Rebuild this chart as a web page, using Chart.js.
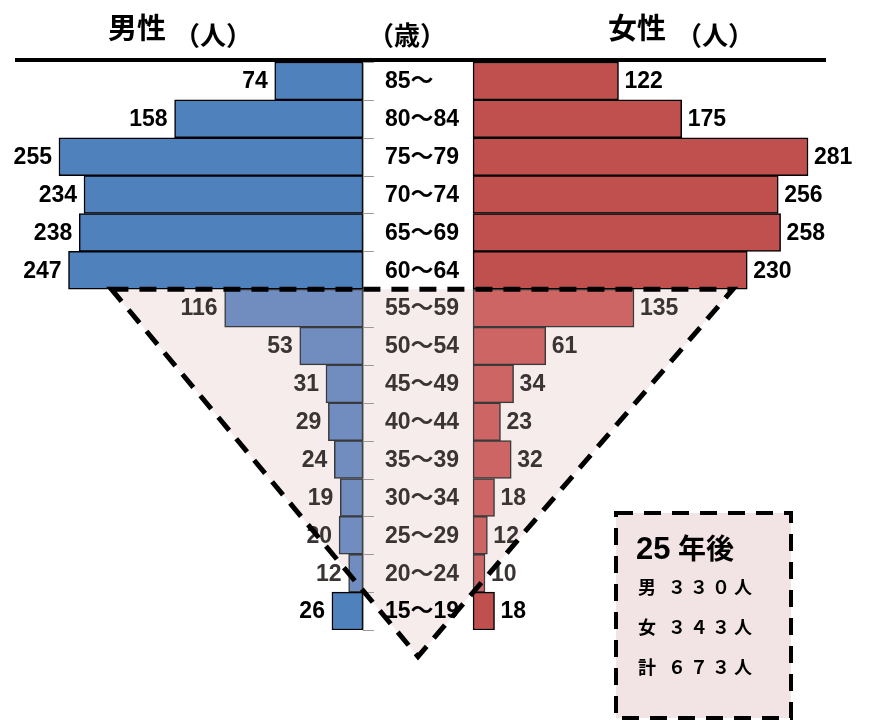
<!DOCTYPE html>
<html>
<head>
<meta charset="utf-8">
<script src="https://cdn.jsdelivr.net/npm/chart.js@4"></script>
<style>
	body { margin: 0; background: #fff; }
	canvas { display: block; }
</style>
</head>
<body>
<canvas id="pyramid" width="871" height="720"></canvas>
<script>
const ages = ['85～', '80～84', '75～79', '70～74', '65～69', '60～64', '55～59', '50～54',
	'45～49', '40～44', '35～39', '30～34', '25～29', '20～24', '15～19'];
const male = [74, 158, 255, 234, 238, 247, 116, 53, 31, 29, 24, 19, 20, 12, 26];
const female = [122, 175, 281, 256, 258, 230, 135, 61, 34, 23, 32, 18, 12, 10, 18];
const summaryTitle = ['25', '年後'];
const summaryRows = [['男', '３３０人'], ['女', '３４３人'], ['計', '６７３人']];

const GAP = 46.2;          // half of the centre column, in data units
const PX = 1.192;          // px per person
const CENTER = 418;
const FONT = '"Liberation Sans", "Noto Sans CJK JP", sans-serif';
const JFONT = '"Noto Sans CJK JP", sans-serif';

// rows drawn in the lighter "future" colour
const isFuture = (i) => i >= 6 && i <= 13;

const deco = {
	id: 'deco',
	triangle(chart) {
		const x = chart.scales.x, y = chart.scales.y;
		const row = y.getPixelForValue(1) - y.getPixelForValue(0);
		const top = y.getPixelForValue(5) + row / 2;
		return [
			[x.getPixelForValue(-GAP - 211), top],
			[x.getPixelForValue(GAP + 218), top],
			[x.getPixelForValue(0), y.getPixelForValue(14) + row * 1.2]
		];
	},
	beforeDatasetsDraw(chart) {
		const ctx = chart.ctx;
		const p = this.triangle(chart);
		ctx.save();
		ctx.fillStyle = '#f6ecec';
		ctx.beginPath();
		ctx.moveTo(...p[0]); ctx.lineTo(...p[1]); ctx.lineTo(...p[2]);
		ctx.closePath();
		ctx.fill();
		ctx.restore();
	},
	afterDatasetsDraw(chart) {
		const ctx = chart.ctx;
		const x = chart.scales.x, y = chart.scales.y;
		const area = chart.chartArea;
		const mZero = x.getPixelForValue(-GAP);
		const row = y.getPixelForValue(1) - y.getPixelForValue(0);
		ctx.save();

		// axis line + small ticks
		ctx.strokeStyle = '#9a9a9a';
		ctx.lineWidth = 1;
		ctx.beginPath();
		ctx.moveTo(mZero + 0.5, area.top);
		ctx.lineTo(mZero + 0.5, area.bottom);
		for (let i = 0; i <= ages.length; i++) {
			const ty = Math.round(y.getPixelForValue(i) - row / 2) + 0.5;
			ctx.moveTo(mZero, ty);
			ctx.lineTo(mZero + 11, ty);
		}
		ctx.stroke();

		// labels
		ctx.font = 'bold 23px ' + FONT;
		ctx.textBaseline = 'middle';
		ages.forEach((age, i) => {
			const cy = y.getPixelForValue(i) + 1;
			ctx.fillStyle = isFuture(i) ? '#3a3434' : '#000';
			ctx.textAlign = 'left';
			ctx.fillText(age, mZero + 22, cy);
			ctx.textAlign = 'right';
			ctx.fillText(String(male[i]), x.getPixelForValue(-GAP - male[i]) - 7, cy);
			ctx.textAlign = 'left';
			ctx.fillText(String(female[i]), x.getPixelForValue(GAP + female[i]) + 6, cy);
		});

		// dashed outline of the triangle
		const p = this.triangle(chart);
		ctx.strokeStyle = '#000';
		ctx.lineWidth = 5;
		ctx.setLineDash([17, 11]);
		ctx.beginPath();
		ctx.moveTo(...p[0]); ctx.lineTo(...p[1]); ctx.lineTo(...p[2]);
		ctx.closePath();
		ctx.stroke();
		ctx.setLineDash([]);

		// header
		ctx.fillStyle = '#000';
		ctx.textAlign = 'left';
		ctx.textBaseline = 'alphabetic';
		ctx.font = 'bold 29px ' + JFONT;
		ctx.fillText('男性', 108, 39);
		ctx.fillText('女性', 608, 39);
		ctx.font = 'bold 26px ' + JFONT;
		ctx.fillText('（人）', 174, 45);
		ctx.fillText('（歳）', 368, 45);
		ctx.fillText('（人）', 676, 45);
		ctx.lineWidth = 4;
		ctx.beginPath();
		ctx.moveTo(15, 60);
		ctx.lineTo(826, 60);
		ctx.stroke();

		// summary box
		ctx.fillStyle = '#f2e4e4';
		ctx.fillRect(616, 513, 175, 205);
		ctx.strokeStyle = '#000';
		ctx.lineWidth = 4;
		ctx.setLineDash([17, 11]);
		ctx.strokeRect(616, 513, 175, 205);
		ctx.setLineDash([]);
		ctx.fillStyle = '#000';
		ctx.font = 'bold 31px "Liberation Sans Narrow", ' + FONT;
		ctx.fillText(summaryTitle[0], 636, 559);
		ctx.font = 'bold 28px ' + JFONT;
		ctx.fillText(summaryTitle[1], 678, 559);
		ctx.font = 'bold 18px ' + JFONT;
		summaryRows.forEach(([head, rest], i) => {
			const by = 594 + i * 40;
			ctx.fillText(head, 638, by);
			[...rest].forEach((ch, k) => ctx.fillText(ch, 668 + k * 22, by));
		});
		ctx.restore();
	}
};

new Chart(document.getElementById('pyramid'), {
	type: 'bar',
	data: {
		labels: ages,
		datasets: [
			{
				label: '男性',
				data: male.map((v) => [-GAP - v, -GAP]),
				backgroundColor: male.map((v, i) => isFuture(i) ? '#718dbf' : '#4f81bd'),
				borderColor: male.map((v, i) => isFuture(i) ? '#3a3a3a' : '#000'),
				borderWidth: 1.5,
				borderSkipped: false,
				grouped: false,
				barPercentage: 1,
				categoryPercentage: 1
			},
			{
				label: '女性',
				data: female.map((v) => [GAP, GAP + v]),
				backgroundColor: female.map((v, i) => isFuture(i) ? '#cc6564' : '#c0504d'),
				borderColor: female.map((v, i) => isFuture(i) ? '#3a3a3a' : '#000'),
				borderWidth: 1.5,
				borderSkipped: false,
				grouped: false,
				barPercentage: 1,
				categoryPercentage: 1
			}
		]
	},
	options: {
		indexAxis: 'y',
		responsive: false,
		animation: false,
		layout: { padding: { top: 62, bottom: 90, left: 0, right: 0 } },
		scales: {
			x: { display: false, min: -CENTER / PX, max: (871 - CENTER) / PX },
			y: { display: false }
		},
		plugins: {
			legend: { display: false },
			tooltip: { enabled: false }
		}
	},
	plugins: [deco]
});
</script>
</body>
</html>
